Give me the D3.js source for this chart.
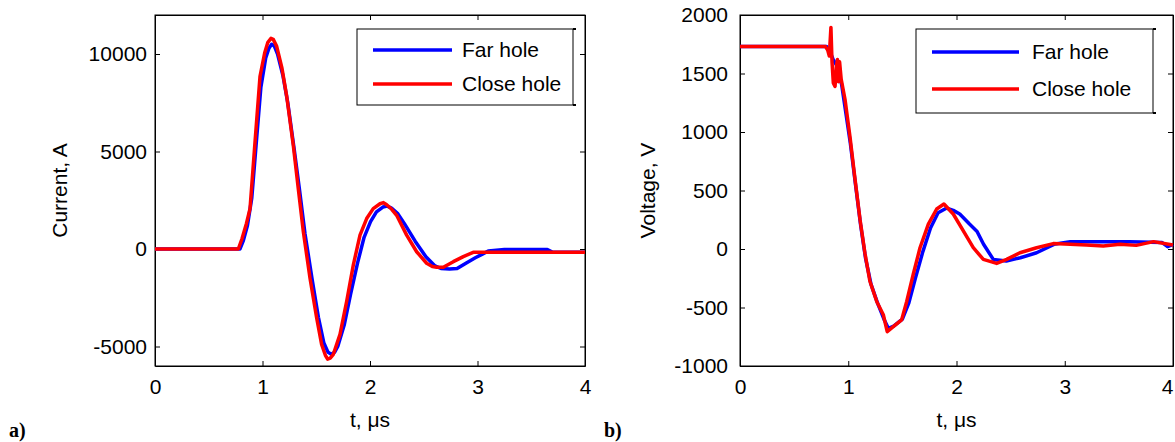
<!DOCTYPE html>
<html lang="en">
  <head>
    <meta charset="UTF-8" />
    <title>Current and voltage, far hole vs close hole</title>
    <script src="https://d3js.org/d3.v7.min.js"></script>
    <style>
      body {
        margin: 0;
        background: #fff;
      }
      svg text {
        font-family: "Liberation Sans", Arial, sans-serif;
        fill: #000;
      }
      .panel-tag {
        font-family: "Liberation Serif", "Times New Roman", serif !important;
        font-weight: bold;
        font-size: 20px;
      }
    </style>
  </head>
  <body>
    <div id="chart"></div>
    <script>
      // time axis ticks (µs)
      const tTicks = [0, 1, 2, 3, 4];
      const seriesNames = ["Far hole", "Close hole"];

      // panel a) current, A
      const currentTicks = [-5000, 0, 5000, 10000];
      const tCurFar = [0, 0.79, 0.82, 0.86, 0.9, 0.94, 0.985, 1.03, 1.06, 1.085, 1.11, 1.14, 1.19, 1.235, 1.295, 1.345, 1.395, 1.46, 1.52, 1.57, 1.61, 1.64, 1.67, 1.7, 1.76, 1.82, 1.885, 1.945, 2.005, 2.06, 2.12, 2.16, 2.2, 2.26, 2.32, 2.42, 2.52, 2.6, 2.66, 2.74, 2.81, 2.9, 2.98, 3.05, 3.1, 3.25, 3.5, 3.65, 3.7, 4];
      const iCurFar = [0, 0, 400, 1200, 2600, 5300, 8300, 9800, 10300, 10500, 10400, 10000, 8900, 7500, 5100, 3000, 800, -1500, -3500, -4800, -5300, -5400, -5300, -5000, -3900, -2300, -700, 600, 1400, 1900, 2150, 2200, 2100, 1800, 1300, 400, -400, -850, -1000, -1020, -1000, -700, -450, -250, -100, -30, -30, -30, -170, -170];
      const tCurClose = [0, 0.775, 0.81, 0.85, 0.884, 0.93, 0.977, 1.02, 1.05, 1.079, 1.1, 1.132, 1.18, 1.225, 1.287, 1.333, 1.38, 1.442, 1.504, 1.55, 1.585, 1.606, 1.63, 1.659, 1.721, 1.783, 1.845, 1.907, 1.969, 2.03, 2.093, 2.125, 2.155, 2.2, 2.248, 2.341, 2.434, 2.527, 2.58, 2.62, 2.682, 2.775, 2.868, 2.96, 3.05, 3.5, 4];
      const iCurClose = [0, 0, 540, 1300, 2070, 5460, 8860, 10050, 10600, 10800, 10750, 10390, 9300, 7840, 5300, 3090, 880, -1500, -3530, -4890, -5450, -5650, -5600, -5400, -4380, -2680, -815, 710, 1560, 2070, 2320, 2380, 2270, 2050, 1730, 710, -140, -730, -900, -935, -935, -650, -390, -170, -170, -170, -170];

      // panel b) voltage, V
      const voltageTicks = [-1000, -500, 0, 500, 1000, 1500, 2000];
      const tVoltFar = [0, 0.8, 0.83, 0.86, 0.9, 0.94, 0.98, 1.02, 1.07, 1.115, 1.16, 1.21, 1.27, 1.33, 1.37, 1.42, 1.5, 1.56, 1.62, 1.69, 1.76, 1.83, 1.91, 1.97, 2.03, 2.12, 2.19, 2.25, 2.34, 2.46, 2.59, 2.74, 2.9, 3.05, 3.3, 3.6, 3.9, 3.95, 4];
      const uVoltFar = [1730, 1730, 1690, 1620, 1560, 1400, 1150, 900, 530, 200, -80, -300, -460, -600, -678, -660, -600, -460, -250, -20, 180, 310, 350, 330, 299, 213, 150, 40, -89, -103, -75, -32, 40, 63, 63, 63, 55, 20, 40];
      const tVoltClose = [0, 0.79, 0.81, 0.825, 0.84, 0.85, 0.862, 0.878, 0.89, 0.9, 0.91, 0.92, 0.935, 0.97, 1.016, 1.062, 1.109, 1.155, 1.2, 1.263, 1.324, 1.36, 1.416, 1.493, 1.54, 1.6, 1.663, 1.74, 1.817, 1.884, 1.97, 2.063, 2.155, 2.248, 2.371, 2.463, 2.586, 2.74, 2.894, 3.05, 3.2, 3.356, 3.51, 3.66, 3.82, 4];
      const uVoltClose = [1730, 1730, 1700, 1650, 1894, 1600, 1420, 1390, 1560, 1620, 1430, 1600, 1450, 1280, 960, 600, 250, -40, -276, -448, -562, -707, -664, -606, -448, -218, 11, 213, 342, 385, 299, 155, 11, -89, -123, -89, -32, 11, 46, 40, 34, 26, 40, 31, 63, 34];

      const colors = ["#0000ff", "#ff0000"];
      const fontSize = 21;
      // plain numbers with ascii hyphen, like the original figure
      const plain = (d) => String(d);

      const svg = d3
        .select("#chart")
        .append("svg")
        .attr("width", 1175)
        .attr("height", 442);

      const zip = (ts, vs) => ts.map((t, i) => ({ t: t, v: vs[i] }));

      function drawPanel(cfg) {
        const x = d3.scaleLinear().domain([0, 4]).range([cfg.left, cfg.right]);
        const y = d3.scaleLinear().domain(cfg.yDomain).range([cfg.bottom, cfg.top]);
        const g = svg.append("g");

        // white plot area + box
        g.append("rect")
          .attr("x", cfg.left)
          .attr("y", cfg.top)
          .attr("width", cfg.right - cfg.left)
          .attr("height", cfg.bottom - cfg.top)
          .attr("fill", "#fff")
          .attr("stroke", "#000")
          .attr("stroke-width", 1);

        // bottom axis with labels, inward ticks
        const xAxis = g
          .append("g")
          .attr("transform", `translate(0, ${cfg.bottom})`)
          .call(d3.axisBottom(x).tickValues(tTicks).tickSizeInner(-5).tickSizeOuter(0).tickPadding(13).tickFormat(plain))
          .attr("font-size", fontSize)
          .attr("font-family", null);

        // last label sits on the page edge in panel b, pull it in a bit
        if (cfg.nudgeLast) {
          xAxis
            .selectAll(".tick text")
            .filter((d) => d === 4)
            .attr("dx", -cfg.nudgeLast);
        }

        // top axis, ticks only
        g.append("g")
          .attr("transform", `translate(0, ${cfg.top})`)
          .call(d3.axisTop(x).tickValues(tTicks).tickSizeInner(-5).tickSizeOuter(0).tickFormat(""));

        // left axis with labels
        g.append("g")
          .attr("transform", `translate(${cfg.left}, 0)`)
          .call(d3.axisLeft(y).tickValues(cfg.yTicks).tickSizeInner(-5).tickSizeOuter(0).tickPadding(cfg.yPad).tickFormat(plain))
          .attr("font-size", fontSize)
          .attr("font-family", null);

        // right axis, ticks only
        g.append("g")
          .attr("transform", `translate(${cfg.right}, 0)`)
          .call(d3.axisRight(y).tickValues(cfg.yTicks).tickSizeInner(-5).tickSizeOuter(0).tickFormat(""));

        g.selectAll(".domain").attr("stroke", "#000");
        g.selectAll(".tick line").attr("stroke", "#000");

        // curves
        const line = d3
          .line()
          .x((d) => x(d.t))
          .y((d) => y(d.v));

        cfg.series.forEach((s, i) => {
          g.append("path")
            .datum(s)
            .attr("fill", "none")
            .attr("stroke", colors[i])
            .attr("stroke-width", 3.5)
            .attr("stroke-linejoin", "round")
            .attr("d", line);
        });

        // axis titles
        g.append("text")
          .attr("x", (cfg.left + cfg.right) / 2)
          .attr("y", 427)
          .attr("text-anchor", "middle")
          .attr("font-size", fontSize)
          .text("t, \u03bcs");

        g.append("text")
          .attr("transform", `translate(${cfg.yLabelX}, ${(cfg.top + cfg.bottom) / 2}) rotate(-90)`)
          .attr("text-anchor", "middle")
          .attr("font-size", fontSize)
          .text(cfg.yLabel);

        // legend
        const lg = cfg.legend;
        g.append("rect")
          .attr("x", lg.x0)
          .attr("y", lg.y0)
          .attr("width", lg.x1 - lg.x0)
          .attr("height", lg.y1 - lg.y0)
          .attr("fill", "#fff")
          .attr("stroke", "#000")
          .attr("stroke-width", 1);
        // the little bracket serifs on the legend's right edge
        [lg.y0, lg.y1].forEach((yy) => {
          g.append("line")
            .attr("x1", lg.x1)
            .attr("x2", lg.x1 + 3)
            .attr("y1", yy)
            .attr("y2", yy)
            .attr("stroke", "#000")
            .attr("stroke-width", 2);
        });

        seriesNames.forEach((name, i) => {
          const yy = lg.rows[i];
          g.append("line")
            .attr("x1", lg.lineX0)
            .attr("x2", lg.lineX1)
            .attr("y1", yy)
            .attr("y2", yy)
            .attr("stroke", colors[i])
            .attr("stroke-width", 3.5);
          g.append("text")
            .attr("x", lg.textX)
            .attr("y", yy)
            .attr("dy", "0.35em")
            .attr("font-size", fontSize)
            .text(name);
        });

        g.append("text")
          .attr("class", "panel-tag")
          .attr("x", cfg.tagX)
          .attr("y", 437)
          .text(cfg.tag);
      }

      drawPanel({
        left: 155,
        right: 585,
        top: 15,
        bottom: 366,
        yDomain: [-6000, 12000],
        yTicks: currentTicks,
        yPad: 8,
        yLabel: "Current, A",
        yLabelX: 67,
        series: [zip(tCurFar, iCurFar), zip(tCurClose, iCurClose)],
        legend: {
          x0: 357, x1: 573, y0: 29, y1: 105,
          lineX0: 373, lineX1: 452, textX: 462,
          rows: [50, 84],
        },
        tag: "a)",
        tagX: 9,
      });

      drawPanel({
        left: 740,
        right: 1173,
        top: 15,
        bottom: 366,
        yDomain: [-1000, 2000],
        yTicks: voltageTicks,
        yPad: 12,
        yLabel: "Voltage, V",
        yLabelX: 655,
        series: [zip(tVoltFar, uVoltFar), zip(tVoltClose, uVoltClose)],
        legend: {
          x0: 916, x1: 1153, y0: 29, y1: 113,
          lineX0: 932, lineX1: 1019, textX: 1032,
          rows: [52, 89],
        },
        nudgeLast: 6,
        tag: "b)",
        tagX: 604,
      });
    </script>
  </body>
</html>
